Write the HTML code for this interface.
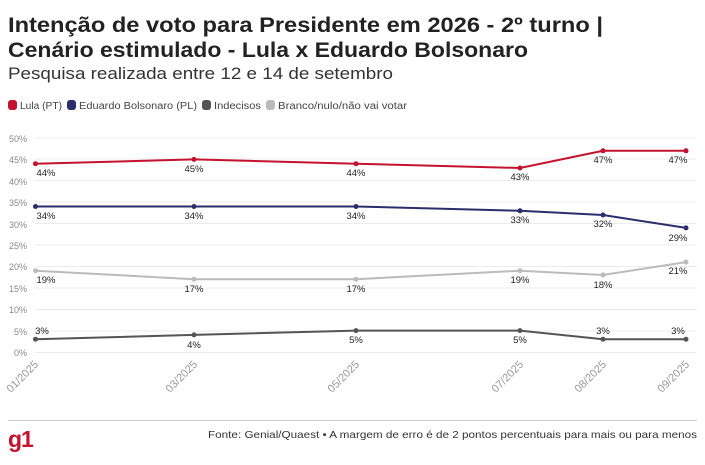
<!DOCTYPE html><html><head><meta charset="utf-8"><style>
body{margin:0;width:705px;height:460px;background:#fff;font-family:"Liberation Sans",sans-serif;overflow:hidden}
</style></head><body>
<svg width="705" height="460" xmlns="http://www.w3.org/2000/svg" font-family="Liberation Sans, sans-serif">
<text x="8" y="32" font-size="21" font-weight="bold" fill="#222" textLength="595" lengthAdjust="spacingAndGlyphs">Intenção de voto para Presidente em 2026 - 2º turno |</text>
<text x="8" y="57" font-size="21" font-weight="bold" fill="#222" textLength="520" lengthAdjust="spacingAndGlyphs">Cenário estimulado - Lula x Eduardo Bolsonaro</text>
<text x="8" y="79" font-size="17" fill="#333" textLength="385" lengthAdjust="spacingAndGlyphs">Pesquisa realizada entre 12 e 14 de setembro</text>
<g font-size="10" fill="#444">
<rect x="8" y="100" width="9" height="10" rx="3" fill="#c4132f"/><text x="20" y="109" textLength="42" lengthAdjust="spacingAndGlyphs">Lula (PT)</text>
<rect x="67" y="100" width="9" height="10" rx="3" fill="#2c2d6b"/><text x="79" y="109" textLength="118" lengthAdjust="spacingAndGlyphs">Eduardo Bolsonaro (PL)</text>
<rect x="202" y="100" width="9" height="10" rx="3" fill="#555"/><text x="214" y="109" textLength="47" lengthAdjust="spacingAndGlyphs">Indecisos</text>
<rect x="266" y="100" width="9" height="10" rx="3" fill="#bbb"/><text x="278" y="109" textLength="129" lengthAdjust="spacingAndGlyphs">Branco/nulo/não vai votar</text>
</g>
<g stroke="#ececec" stroke-width="1">
<line x1="35" x2="697" y1="352.5" y2="352.5"/><line x1="35" x2="697" y1="331" y2="331"/><line x1="35" x2="697" y1="309.5" y2="309.5"/><line x1="35" x2="697" y1="288" y2="288"/><line x1="35" x2="697" y1="266.5" y2="266.5"/><line x1="35" x2="697" y1="245" y2="245"/><line x1="35" x2="697" y1="223.5" y2="223.5"/><line x1="35" x2="697" y1="202" y2="202"/><line x1="35" x2="697" y1="180.5" y2="180.5"/><line x1="35" x2="697" y1="159" y2="159"/><line x1="35" x2="697" y1="138" y2="138"/>
</g>
<g font-size="9" fill="#888" text-anchor="end">
<text x="27" y="356">0%</text><text x="27" y="335">5%</text><text x="27" y="313">10%</text><text x="27" y="292">15%</text><text x="27" y="270">20%</text><text x="27" y="249">25%</text><text x="27" y="228">30%</text><text x="27" y="206">35%</text><text x="27" y="185">40%</text><text x="27" y="163">45%</text><text x="27" y="142">50%</text>
</g>
<g font-size="11" fill="#999" text-anchor="end">
<text transform="translate(39,365) rotate(-45)">01/2025</text>
<text transform="translate(198,365) rotate(-45)">03/2025</text>
<text transform="translate(360,365) rotate(-45)">05/2025</text>
<text transform="translate(524,365) rotate(-45)">07/2025</text>
<text transform="translate(607,365) rotate(-45)">08/2025</text>
<text transform="translate(690,365) rotate(-45)">09/2025</text>
</g>
<g fill="none" stroke-width="2">
<polyline stroke="#c4132f" points="35.5,163.7 194,159.4 356,163.7 520,168 603,150.8 686,150.8"/>
<polyline stroke="#2c2d6b" points="35.5,206.5 194,206.5 356,206.5 520,210.8 603,215 686,227.9"/>
<polyline stroke="#bbb" points="35.5,270.7 194,279.2 356,279.2 520,270.7 603,275 686,262.1"/>
<polyline stroke="#555" points="35.5,339.2 194,334.9 356,330.6 520,330.6 603,339.2 686,339.2"/>
</g>
<g fill="#c4132f"><circle cx="35.5" cy="163.7" r="2.5"/><circle cx="194" cy="159.4" r="2.5"/><circle cx="356" cy="163.7" r="2.5"/><circle cx="520" cy="168" r="2.5"/><circle cx="603" cy="150.8" r="2.5"/><circle cx="686" cy="150.8" r="2.5"/></g>
<g fill="#2c2d6b"><circle cx="35.5" cy="206.5" r="2.5"/><circle cx="194" cy="206.5" r="2.5"/><circle cx="356" cy="206.5" r="2.5"/><circle cx="520" cy="210.8" r="2.5"/><circle cx="603" cy="215" r="2.5"/><circle cx="686" cy="227.9" r="2.5"/></g>
<g fill="#bbb"><circle cx="35.5" cy="270.7" r="2.5"/><circle cx="194" cy="279.2" r="2.5"/><circle cx="356" cy="279.2" r="2.5"/><circle cx="520" cy="270.7" r="2.5"/><circle cx="603" cy="275" r="2.5"/><circle cx="686" cy="262.1" r="2.5"/></g>
<g fill="#555"><circle cx="35.5" cy="339.2" r="2.5"/><circle cx="194" cy="334.9" r="2.5"/><circle cx="356" cy="330.6" r="2.5"/><circle cx="520" cy="330.6" r="2.5"/><circle cx="603" cy="339.2" r="2.5"/><circle cx="686" cy="339.2" r="2.5"/></g>
<g font-size="9.5" fill="#222" text-anchor="middle">
<text x="46" y="176">44%</text><text x="194" y="172">45%</text><text x="356" y="176">44%</text><text x="520" y="180">43%</text><text x="603" y="163">47%</text><text x="678" y="163">47%</text>
<text x="46" y="219">34%</text><text x="194" y="219">34%</text><text x="356" y="219">34%</text><text x="520" y="223">33%</text><text x="603" y="227">32%</text><text x="678" y="241">29%</text>
<text x="46" y="283">19%</text><text x="194" y="292">17%</text><text x="356" y="292">17%</text><text x="520" y="283">19%</text><text x="603" y="288">18%</text><text x="678" y="274">21%</text>
<text x="42" y="334">3%</text><text x="194" y="348">4%</text><text x="356" y="343">5%</text><text x="520" y="343">5%</text><text x="603" y="334">3%</text><text x="678" y="334">3%</text>
</g>
<line x1="8" x2="697" y1="420.5" y2="420.5" stroke="#ccc"/>
<text x="8" y="447" font-size="23" font-weight="bold" fill="#c4132f" letter-spacing="-1">g1</text>
<text x="697" y="438" font-size="10.5" fill="#333" text-anchor="end" textLength="489" lengthAdjust="spacingAndGlyphs">Fonte: Genial/Quaest • A margem de erro é de 2 pontos percentuais para mais ou para menos</text>
</svg>
</body></html>
